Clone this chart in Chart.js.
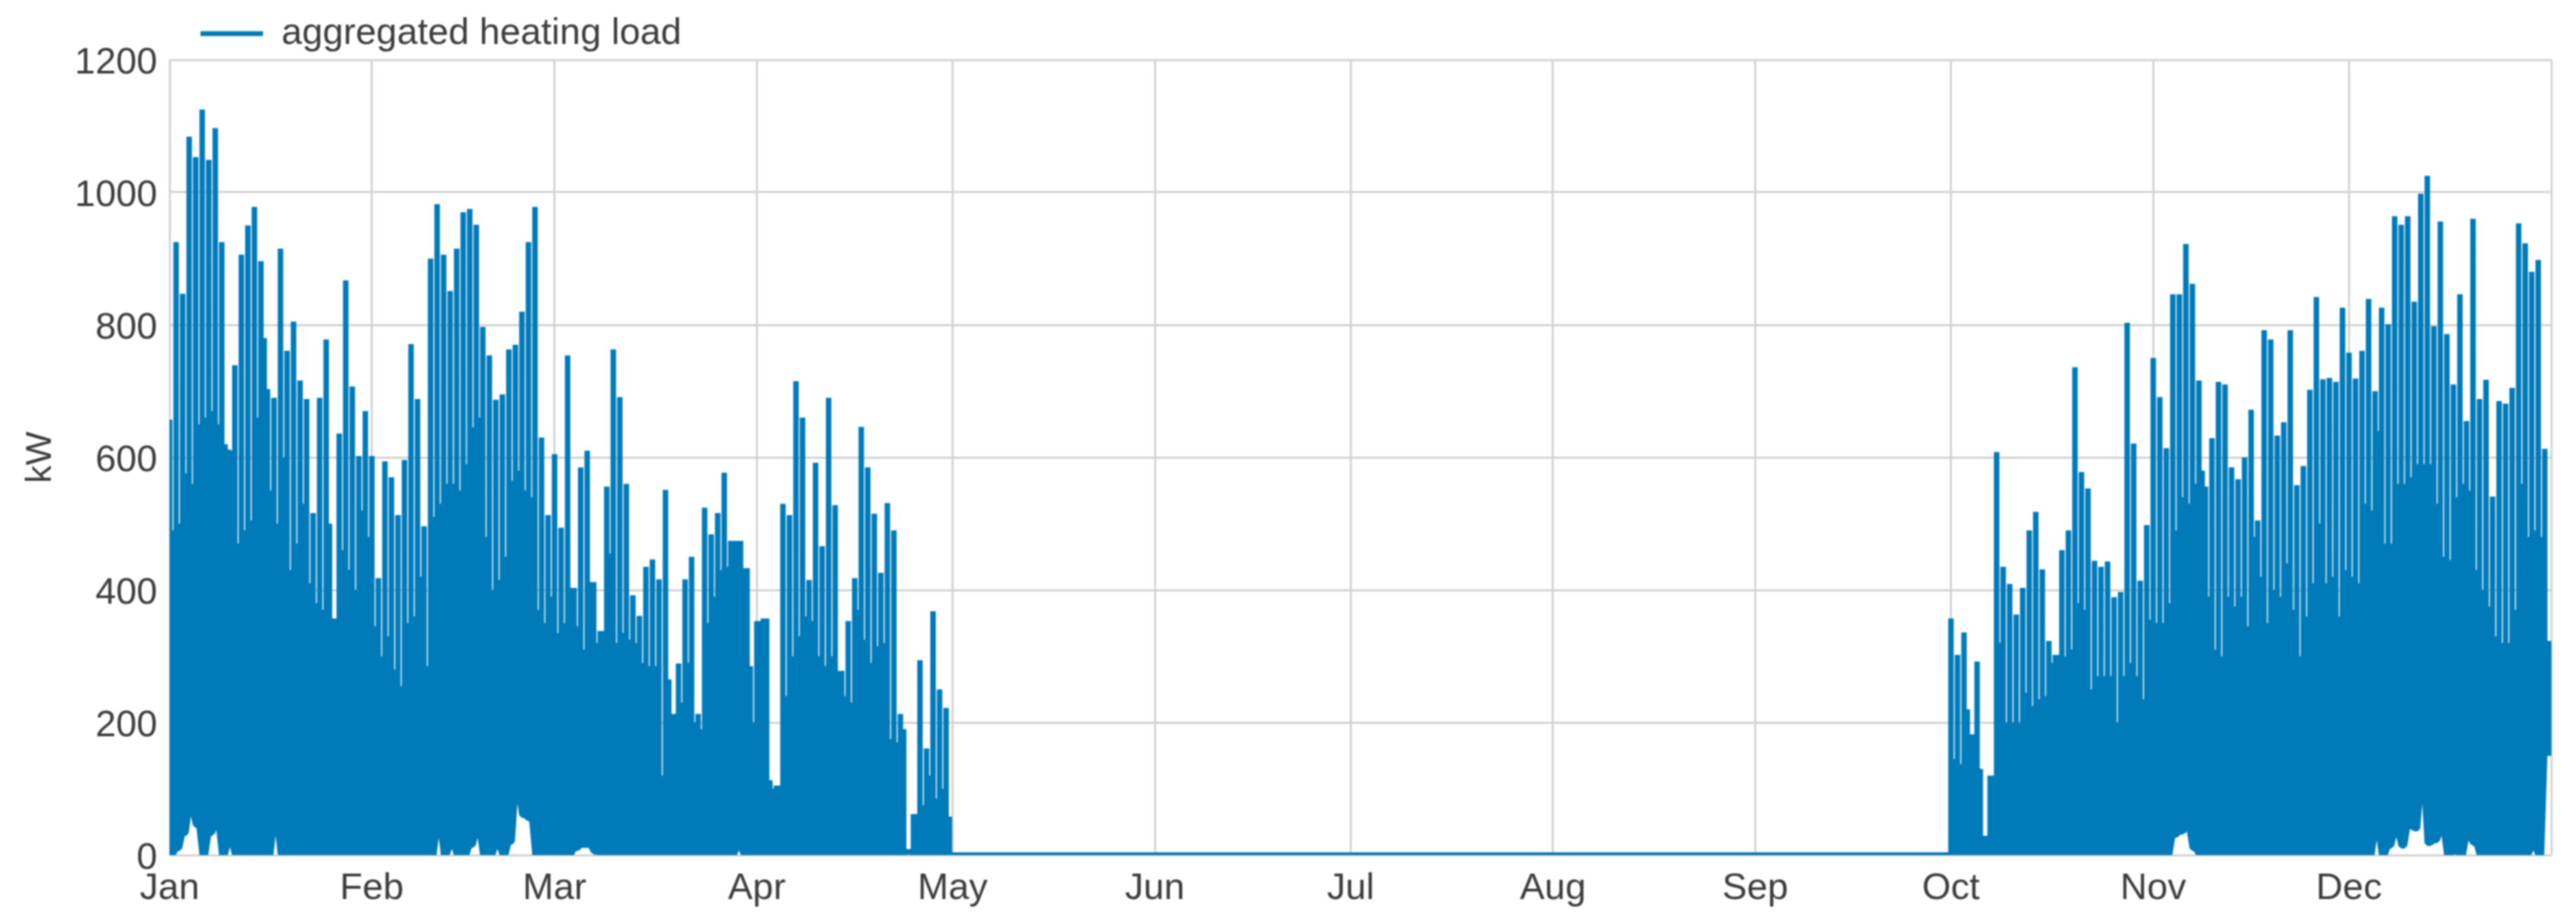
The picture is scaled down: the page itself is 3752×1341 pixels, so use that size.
<!DOCTYPE html>
<html>
<head>
<meta charset="utf-8">
<style>html,body{margin:0;padding:0;background:#fff}canvas{display:block;filter:blur(0.9px)}</style>
<script src="https://cdn.jsdelivr.net/npm/chart.js@4"></script>
</head>
<body>
<canvas id="c" width="3752" height="1341"></canvas>
<script>
const monthLabels = ['Jan','Feb','Mar','Apr','May','Jun','Jul','Aug','Sep','Oct','Nov','Dec'];
const monthStartDays = [0,31,59,90,120,151,181,212,243,273,304,334];
const yTickValues = [0,200,400,600,800,1000,1200];
const seriesName = 'aggregated heating load';
const winterFirstDay = 0;
const autumnFirstDay = 273;
const yearEndDay = 365;

const winterPeak = [
657,925,847,1084,1053,1125,1049,1097,925,612,
739,906,950,978,896,703,690,915,761,805,
716,688,516,690,778,357,636,867,707,602,
670,602,418,594,570,513,596,771,688,496,
900,982,906,851,915,970,975,951,797,754,
687,695,763,770,820,925,978,630,513,605,
494,754,403,585,610,412,338,556,763,691,
560,392,361,435,446,416,551,213,289,416,
450,213,524,484,516,577,474,474,433,285,
353,357,113,105,530,513,715,660,415,592,
466,690,528,278,353,418,646,585,515,426,
531,490,213,5,62,294,161,368,250,222];
const winterBase = [
490,500,576,560,650,660,670,650,620,610,
470,490,505,660,780,550,500,600,430,470,
530,410,380,370,500,357,460,430,400,520,
480,345,300,330,280,255,350,360,420,285,
510,530,560,560,550,590,645,660,480,400,
415,450,565,580,550,540,370,350,390,335,
350,403,345,310,412,320,338,455,320,335,
325,320,290,285,285,120,265,213,230,290,
200,190,350,390,430,435,474,474,433,200,
353,357,100,105,240,300,330,360,353,300,
285,300,278,240,230,370,325,290,315,320,
175,170,190,5,62,75,120,85,100,58];
const winterLow = [
0,10,33,69,45,0,33,45,0,19,
0,0,0,0,0,0,45,0,0,0,
0,0,0,0,0,0,0,0,0,0,
0,0,0,0,0,0,0,0,0,0,
0,40,0,15,0,0,15,35,0,0,
15,0,20,95,60,55,0,0,0,0,
0,0,10,15,15,5,0,0,3,3,
0,0,0,0,0,0,0,0,0,0,
0,0,0,0,0,0,0,12,0,0,
0,0,0,0,0,0,0,0,0,0,
0,0,0,0,0,0,0,0,0,0,
0,0,0,5,0,0,0,0,0,0];

const autumnPeak = [
357,302,336,182,292,29,120,608,435,409,
363,403,490,518,431,323,302,460,490,736,
578,553,444,435,443,389,397,803,621,414,
498,750,691,614,846,846,922,862,716,556,
629,714,710,585,567,600,672,505,792,778,
633,653,792,558,587,702,842,718,720,714,
826,758,719,761,839,700,826,801,964,951,
964,835,998,1025,798,956,786,710,846,655,
960,688,717,541,685,681,705,953,923,880,
898,613];
const autumnBase = [
145,137,220,182,130,29,120,320,200,200,
200,245,225,235,240,290,302,300,310,380,
370,250,270,270,270,200,270,290,270,235,
355,350,350,380,490,540,530,560,580,390,
310,300,390,375,390,345,480,420,350,400,
390,440,370,300,360,410,500,410,420,360,
430,420,410,530,520,640,470,470,560,560,
570,590,590,590,530,450,445,540,560,550,
430,400,375,330,320,320,370,560,480,490,
480,323];
const autumnLow = [
0,0,0,0,0,0,0,0,0,0,
0,0,0,0,0,0,0,0,0,0,
0,0,0,0,0,0,0,0,0,0,
0,0,0,0,30,35,40,10,0,0,
0,0,0,0,0,0,0,0,0,0,
0,0,0,0,0,0,0,0,0,0,
0,0,0,0,0,35,0,14,35,14,
44,40,103,18,22,37,0,5,0,28,
18,0,0,0,0,0,0,0,0,12,
0,154];
const yearEndKw = [154,323];

const lineColor = '#007ab9';
const textColor = '#3c3c3c';
const gridColor = '#d2d2d2';

function addSeason(points, firstDay, peak, base, low) {
  peak.forEach((p, i) => {
    const d = firstDay + i;
    points.push({x:d,y:low[i]},{x:d,y:p},{x:d,y:low[i]});
    points.push({x:d+0.5,y:low[i]},{x:d+0.5,y:base[i]},{x:d+0.5,y:low[i]});
  });
}
const points = [];
addSeason(points, winterFirstDay, winterPeak, winterBase, winterLow);
points.push({x:monthStartDays[4],y:0},{x:autumnFirstDay-0.01,y:0});
addSeason(points, autumnFirstDay, autumnPeak, autumnBase, autumnLow);
points.push({x:yearEndDay,y:yearEndKw[0]},{x:yearEndDay,y:yearEndKw[1]});

const fixLayout = {
  id:'fixLayout',
  beforeLayout(chart){
    const lg = chart.legend;
    if (lg && !lg._patched) {
      lg._patched = true;
      const fit = lg.fit;
      lg.fit = function(){ fit.call(this); this.height = 87; };
    }
  },
  afterLayout(chart){ if (chart.legend) chart.legend.left = 270; }
};

new Chart(document.getElementById('c'), {
  type:'line',
  data:{datasets:[{
    label:seriesName, data:points,
    borderColor:lineColor, backgroundColor:lineColor,
    borderWidth:8, pointRadius:0, tension:0,
    borderJoinStyle:'bevel', borderCapStyle:'butt', fill:false
  }]},
  plugins:[fixLayout],
  options:{
    responsive:false, animation:false, devicePixelRatio:1,
    layout:{autoPadding:false,padding:{left:0,right:36,top:0,bottom:0}},
    plugins:{
      tooltip:{enabled:false},
      legend:{display:true,position:'top',align:'start',
        labels:{boxWidth:91,boxHeight:0,padding:22,color:textColor,
          generateLabels(chart){
            const items = Chart.defaults.plugins.legend.labels.generateLabels(chart);
            items.forEach(it=>{ it.lineWidth = 7; });
            return items;
          },
          font:{family:'"Liberation Sans"',size:54}}}
    },
    scales:{
      x:{type:'linear',min:0,max:yearEndDay,
        afterBuildTicks(s){ s.ticks = monthStartDays.concat([yearEndDay]).map(v=>({value:v})); },
        afterFit(s){ s.height = 96; },
        grid:{color:gridColor,lineWidth:3,drawTicks:false},
        border:{display:false},
        ticks:{autoSkip:false,maxRotation:0,minRotation:0,padding:17,color:textColor,
          font:{family:'"Liberation Sans"',size:54},
          callback(v){ const i = monthStartDays.indexOf(v); return i>=0 ? monthLabels[i] : ''; }}
      },
      y:{type:'linear',min:0,max:1200,
        afterBuildTicks(s){ s.ticks = yTickValues.map(v=>({value:v})); },
        afterFit(s){ s.width = 247; },
        grid:{color:gridColor,lineWidth:3,drawTicks:false},
        border:{display:false},
        title:{display:true,text:'kW',color:textColor,padding:{top:28,bottom:0},
          font:{family:'"Liberation Sans"',size:52}},
        ticks:{padding:18,labelOffset:5,color:textColor,font:{family:'"Liberation Sans"',size:54},
          callback(v){ return String(v); }}
      }
    }
  }
});
</script>
</body>
</html>
